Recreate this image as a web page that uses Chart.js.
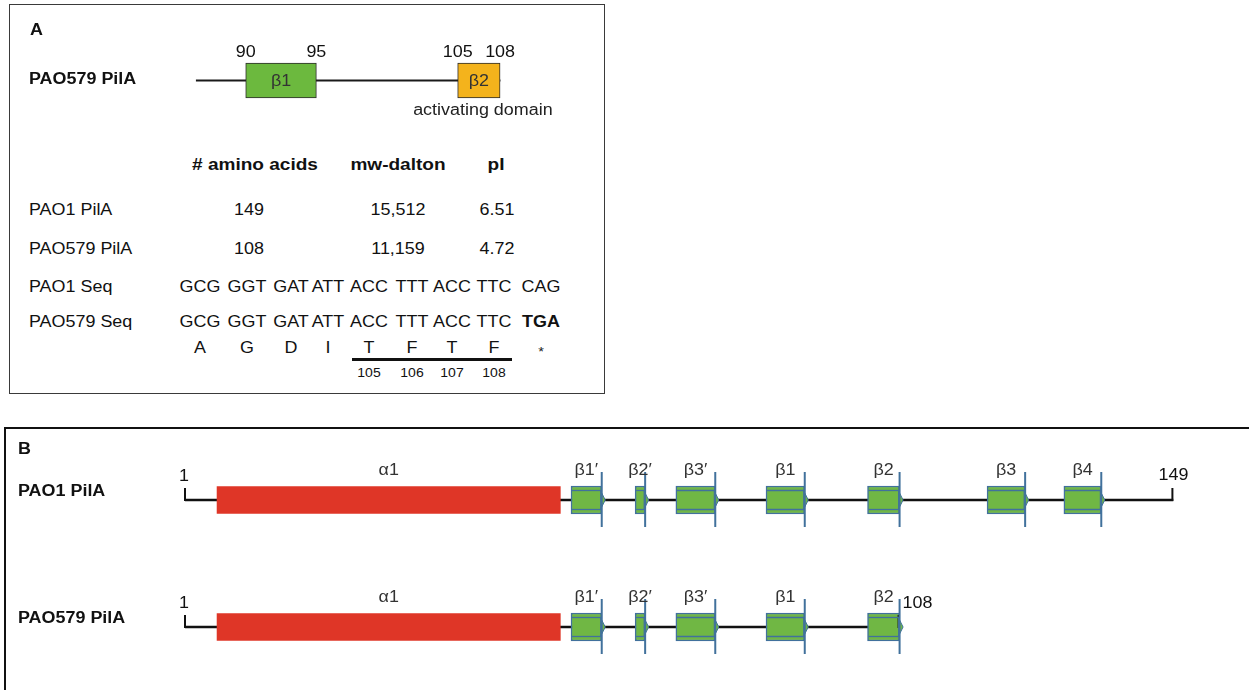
<!DOCTYPE html>
<html>
<head>
<meta charset="utf-8">
<title>PilA domains</title>
<script src="https://cdn.jsdelivr.net/npm/chart.js"></script>
<style>
  html, body { margin: 0; padding: 0; background: #fff; width: 1249px; height: 690px; overflow: hidden; }
  body { position: relative; font-family: "Liberation Sans", Arial, sans-serif; color: #111; }
  #panelA { position: absolute; left: 9px; top: 4px; width: 596px; height: 390px; box-sizing: border-box;
            border: 1.5px solid #3a3a3a; }
  #panelB { position: absolute; left: 4px; top: 427px; width: 1300px; height: 320px; box-sizing: border-box;
            border-left: 2.5px solid #111; border-top: 2.5px solid #111; }
  canvas { position: absolute; }
  #chartA { left: 9px; top: 4px; width: 596px; height: 130px; }
  #chartB { left: 0px; top: 428px; width: 1249px; height: 263px; }
  .t { position: absolute; white-space: nowrap; line-height: 1; }
  .rule { position: absolute; background: #111; }
</style>
</head>
<body>
<div id="panelA"></div>
<div id="panelB"></div>
<canvas id="chartA" width="596" height="130"></canvas>
<canvas id="chartB" width="1249" height="263"></canvas>

<script>
// ---------- Panel A: truncated PAO579 pilin motifs ----------
const schematicProtein = 'PAO579 PilA';
const schematicSpan = [86.5, 108];
const motifNames = ['β1', 'β2'];
const motifStarts = [90, 105];
const motifEnds = [95, 108];
const motifNotes = ['', 'activating domain'];

// ---------- Panel A: protein properties ----------
const propertyHeaders = ['# amino acids', 'mw-dalton', 'pI'];
const strainProteins = ['PAO1 PilA', 'PAO579 PilA'];
const aminoAcidCounts = ['149', '108'];
const molecularWeights = ['15,512', '11,159'];
const isoelectricPoints = ['6.51', '4.72'];

// ---------- Panel A: sequence around the stop codon ----------
const sequenceNames = ['PAO1 Seq', 'PAO579 Seq'];
const pao1Codons = ['GCG', 'GGT', 'GAT', 'ATT', 'ACC', 'TTT', 'ACC', 'TTC', 'CAG'];
const pao579Codons = ['GCG', 'GGT', 'GAT', 'ATT', 'ACC', 'TTT', 'ACC', 'TTC', 'TGA'];
const translation = ['A', 'G', 'D', 'I', 'T', 'F', 'T', 'F', '*'];
const domainResidues = [105, 106, 107, 108];

// ---------- Panel B: secondary structure of the two pilins ----------
const proteins = ['PAO1 PilA', 'PAO579 PilA'];
const proteinLengths = [149, 108];
const helixLabel = 'α1';
const helixRange = [5.8, 57.2];
const strandLabels = ['β1′', 'β2′', 'β3′', 'β1', 'β2', 'β3', 'β4'];
const strandStarts = [58.8, 68.4, 74.5, 88.0, 103.2, 121.1, 132.6];
const strandEnds = [63.4, 69.9, 80.4, 93.8, 108.0, 126.8, 138.2];

// ---------- styling ----------
const TEXT_STRETCH = 1.12;
const FONT = '"Liberation Sans", Arial, sans-serif';
const motifColors = ['#6cb93e', '#f4b31c'];
const HELIX_RED = '#df3627';
const STRAND_GREEN = '#70b744';
const STRAND_EDGE = '#41719c';

// ---------- HTML text helpers ----------
function addText(txt, x, y, opts = {}) {
  const el = document.createElement('div');
  el.className = 't';
  el.textContent = txt;
  el.style.left = x + 'px';
  el.style.top = y + 'px';
  el.style.fontSize = (opts.size || 16) + 'px';
  if (opts.bold) el.style.fontWeight = 'bold';
  if (opts.color) el.style.color = opts.color;
  if ((opts.align || 'center') === 'center') {
    el.style.transformOrigin = '50% 50%';
    el.style.transform = `translate(-50%, -50%) scaleX(${TEXT_STRETCH})`;
  } else {
    el.style.transformOrigin = '0 50%';
    el.style.transform = `translateY(-50%) scaleX(${TEXT_STRETCH})`;
  }
  document.body.appendChild(el);
  return el;
}

// panel letters
addText('A', 30, 29.5, { bold: true, align: 'left' });
addText('B', 18, 449, { bold: true, align: 'left' });

// property table
const headerX = [255, 397.5, 495.5];
const valueX = [248.5, 397.5, 497];
const labelLeft = 29;
const headerY = 163.5;
const tableRowY = [210, 248.5];
propertyHeaders.forEach((h, i) => addText(h, headerX[i], headerY, { bold: true, size: 17 }));
strainProteins.forEach((p, r) => {
  addText(p, labelLeft, tableRowY[r], { align: 'left' });
  [aminoAcidCounts, molecularWeights, isoelectricPoints].forEach((col, c) =>
    addText(col[r], valueX[c], tableRowY[r]));
});

// codon alignment
const codonX = [200, 247, 291, 328, 369, 412, 452, 494, 541];
const seqRowY = [287, 322];
const aaRowY = 347.5;
const residueRowY = 373;
[pao1Codons, pao579Codons].forEach((codons, r) => {
  addText(sequenceNames[r], labelLeft, seqRowY[r], { align: 'left' });
  codons.forEach((cd, i) => {
    const changed = r === 1 && cd !== pao1Codons[i];
    addText(cd, codonX[i], seqRowY[r], { bold: changed });
  });
});
translation.forEach((aa, i) => {
  if (aa === '*') addText(aa, codonX[i], aaRowY + 3, { size: 13, color: '#222' });
  else addText(aa, codonX[i], aaRowY);
});
// residues of the activating domain: underline and numbering
const firstDomainCol = translation.length - 1 - domainResidues.length;
const lastDomainCol = translation.length - 2;
const rule = document.createElement('div');
rule.className = 'rule';
rule.style.left = (codonX[firstDomainCol] - 17) + 'px';
rule.style.width = (codonX[lastDomainCol] - codonX[firstDomainCol] + 35) + 'px';
rule.style.top = '358px';
rule.style.height = '2.5px';
document.body.appendChild(rule);
domainResidues.forEach((n, k) => addText(String(n), codonX[firstDomainCol + k], residueRowY, { size: 12.5 }));

// ---------- canvas text helper ----------
function canvasText(ctx, text, x, y, opts = {}) {
  ctx.save();
  ctx.font = `${opts.bold ? 'bold ' : ''}${opts.size || 16}px ${FONT}`;
  ctx.fillStyle = opts.color || '#111';
  ctx.textBaseline = 'middle';
  ctx.textAlign = 'left';
  const w = ctx.measureText(text).width * TEXT_STRETCH;
  const align = opts.align || 'center';
  const left = align === 'center' ? x - w / 2 : align === 'right' ? x - w : x;
  ctx.translate(left, y);
  ctx.scale(TEXT_STRETCH, 1);
  ctx.fillText(text, 0, 0);
  ctx.restore();
}
function strokeLine(ctx, x1, y1, x2, y2, color, width) {
  ctx.save();
  ctx.strokeStyle = color;
  ctx.lineWidth = width;
  ctx.beginPath();
  ctx.moveTo(x1, y1);
  ctx.lineTo(x2, y2);
  ctx.stroke();
  ctx.restore();
}

// ---------- Chart A: motif map of the truncated pilin ----------
const motifDecor = {
  id: 'motifDecor',
  afterDatasetsDraw(chart) {
    const ctx = chart.ctx;
    const xs = chart.scales.x, ys = chart.scales.y;
    const rowY = ys.getPixelForValue(0);
    canvasText(ctx, schematicProtein, 20, rowY - 0.5, { bold: true, align: 'left' });
    motifNames.forEach((name, i) => {
      const x0 = xs.getPixelForValue(motifStarts[i]);
      const x1 = xs.getPixelForValue(motifEnds[i]);
      canvasText(ctx, String(motifStarts[i]), x0, rowY - 28);
      canvasText(ctx, String(motifEnds[i]), x1, rowY - 28);
      canvasText(ctx, name, (x0 + x1) / 2, rowY + 1, { color: '#333' });
      if (motifNotes[i]) canvasText(ctx, motifNotes[i], (x0 + x1) / 2 + 4, rowY + 30, { color: '#222' });
    });
  }
};

const datasetsA = [{
  label: 'chain',
  data: [schematicSpan.slice()],
  backgroundColor: '#1a1a1a',
  borderWidth: 0,
  barThickness: 1.5,
  grouped: false,
  order: 3
}];
motifNames.forEach((name, i) => datasetsA.push({
  label: name,
  data: [[motifStarts[i], motifEnds[i]]],
  backgroundColor: motifColors[i],
  borderColor: '#2b2b2b',
  borderWidth: 1,
  borderSkipped: false,
  barThickness: 35,
  grouped: false,
  order: 1
}));

new Chart(document.getElementById('chartA'), {
  type: 'bar',
  data: { labels: [schematicProtein], datasets: datasetsA },
  options: {
    indexAxis: 'y',
    responsive: false,
    animation: false,
    events: [],
    layout: { padding: { left: 95.4, right: 48.4, top: 56.5, bottom: 33.5 } },
    scales: {
      x: { type: 'linear', min: 80, max: 112, display: false },
      y: { type: 'category', display: false }
    },
    plugins: { legend: { display: false }, tooltip: { enabled: false } }
  },
  plugins: [motifDecor]
});

// ---------- Chart B: helix and strands along both chains ----------
const structureDecor = {
  id: 'structureDecor',
  afterDatasetsDraw(chart) {
    const ctx = chart.ctx;
    const xs = chart.scales.x, ys = chart.scales.y;

    proteins.forEach((p, r) => {
      const y = ys.getPixelForValue(r);
      const xStart = xs.getPixelForValue(1);
      const xEnd = xs.getPixelForValue(proteinLengths[r]);
      canvasText(ctx, p, 18, y - 8.5, { bold: true, align: 'left' });
      // N- and C-terminal ticks
      strokeLine(ctx, xStart, y - 12, xStart, y + 1, '#111', 2);
      strokeLine(ctx, xEnd - 1, y - 12, xEnd - 1, y + 1, '#111', 2);
      canvasText(ctx, '1', xStart - 1, y - 23.5);
      const endsInStrand = strandEnds.some(e => e === proteinLengths[r]);
      if (endsInStrand) canvasText(ctx, String(proteinLengths[r]), xEnd + 3, y - 23.5, { align: 'left' });
      else canvasText(ctx, String(proteinLengths[r]), xEnd, y - 24);
    });

    chart.data.datasets.forEach((ds, di) => {
      if (!ds.role || ds.role === 'chain') return;
      const meta = chart.getDatasetMeta(di);
      meta.data.forEach((bar, r) => {
        if (ds.data[r] == null) return;
        const { x, y, base } = bar.getProps(['x', 'y', 'base'], true);
        if (ds.role === 'strand') {
          // inner stripes of the strand arrow
          strokeLine(ctx, base + 1, y - 9.5, x, y - 9.5, STRAND_EDGE, 1.3);
          strokeLine(ctx, base + 1, y + 9.5, x, y + 9.5, STRAND_EDGE, 1.3);
          // arrow tip
          ctx.save();
          ctx.beginPath();
          ctx.moveTo(x - 1, y - 9);
          ctx.lineTo(x + 3.5, y);
          ctx.lineTo(x - 1, y + 9);
          ctx.closePath();
          ctx.fillStyle = STRAND_GREEN;
          ctx.fill();
          ctx.strokeStyle = STRAND_EDGE;
          ctx.lineWidth = 1;
          ctx.stroke();
          ctx.restore();
          // arrow head bar
          strokeLine(ctx, x, y - 28, x, y + 27, STRAND_EDGE, 2);
        }
        canvasText(ctx, ds.label, (x + base) / 2, y - 29.5, { color: '#333' });
      });
    });
  }
};

const datasetsB = [{
  label: 'chain',
  role: 'chain',
  data: proteinLengths.map(L => [1, L]),
  backgroundColor: '#111',
  borderWidth: 0,
  barThickness: 2,
  grouped: false,
  order: 3
}, {
  label: helixLabel,
  role: 'helix',
  data: proteinLengths.map(L => (helixRange[1] <= L ? helixRange.slice() : null)),
  backgroundColor: HELIX_RED,
  borderWidth: 0,
  barThickness: 27,
  grouped: false,
  order: 2
}];
strandLabels.forEach((name, i) => datasetsB.push({
  label: name,
  role: 'strand',
  data: proteinLengths.map(L => (strandEnds[i] <= L ? [strandStarts[i], strandEnds[i]] : null)),
  backgroundColor: STRAND_GREEN,
  borderColor: STRAND_EDGE,
  borderWidth: 1.5,
  borderSkipped: false,
  barThickness: 28,
  grouped: false,
  order: 1
}));

new Chart(document.getElementById('chartB'), {
  type: 'bar',
  data: { labels: proteins, datasets: datasetsB },
  options: {
    indexAxis: 'y',
    responsive: false,
    animation: false,
    events: [],
    layout: { padding: { left: 185, right: 75.6, top: 8.5, bottom: 0.5 } },
    scales: {
      x: { type: 'linear', min: 1, max: 149, display: false },
      y: { type: 'category', display: false }
    },
    plugins: { legend: { display: false }, tooltip: { enabled: false } }
  },
  plugins: [structureDecor]
});
</script>
</body>
</html>
